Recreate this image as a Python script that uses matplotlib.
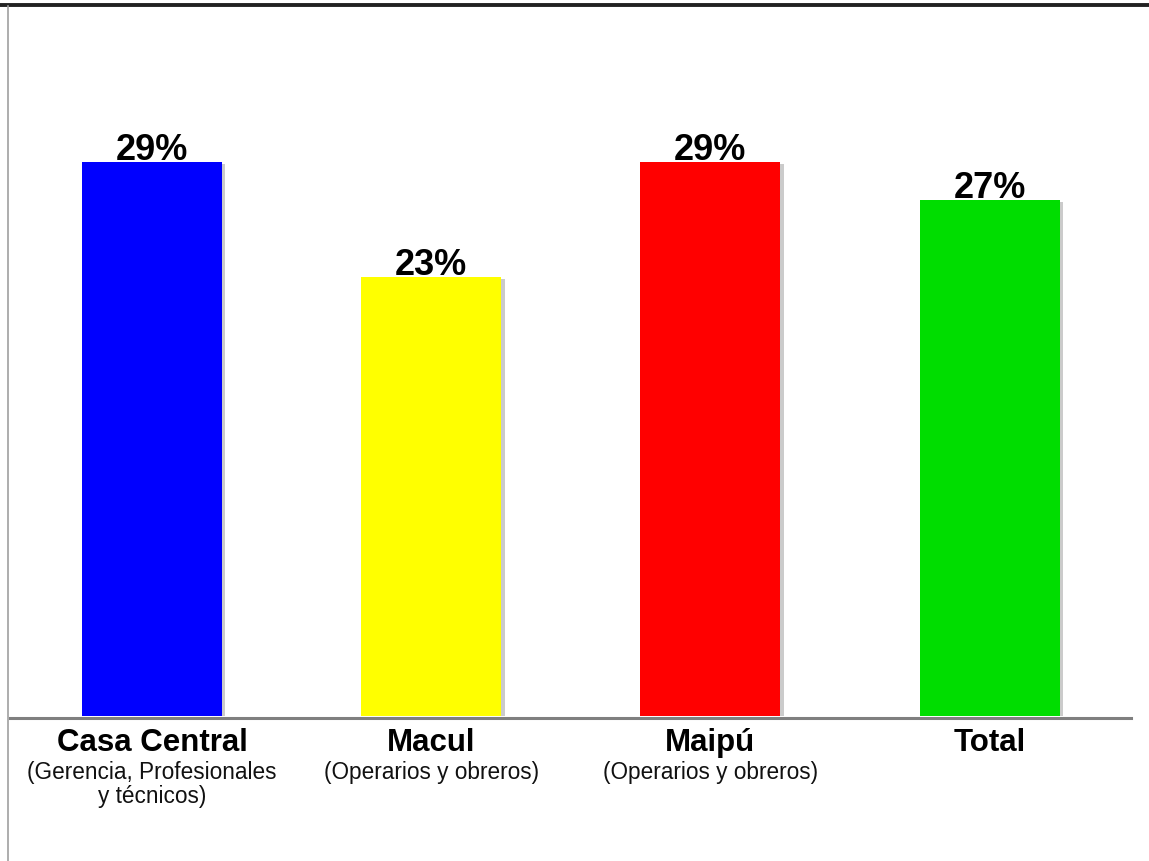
import matplotlib
matplotlib.use("Agg")
import matplotlib.pyplot as plt
from matplotlib.lines import Line2D
import matplotlib.patheffects as pe
import matplotlib.transforms as mtransforms

categories = ["Casa Central", "Macul", "Maipú", "Total"]
subtitles = ["(Gerencia, Profesionales\ny técnicos)", "(Operarios y obreros)", "(Operarios y obreros)", ""]
values = [29, 23, 29, 27]
labels = ["29%", "23%", "29%", "27%"]
colors = ["#0000FF", "#FFFF00", "#FF0000", "#00DD00"]

plt.rcParams['font.family'] = ['Liberation Sans', 'DejaVu Sans']

W, H = 1149, 861
fig = plt.figure(figsize=(W / 100, H / 100), dpi=100)

# axes in pixel layout
left_px, right_px, bottom_px, top_px = 10, 1131, 716, 6
ax = fig.add_axes([left_px / W, 1 - bottom_px / H, (right_px - left_px) / W, (bottom_px - top_px) / H])
ppu = 554 / 29.0
ax.set_ylim(0, (bottom_px - top_px) / ppu)
spacing = 279.17
ax.set_xlim((left_px - 152) / spacing, (right_px - 152) / spacing)
ax.axis('off')

x = list(range(len(categories)))
bars = ax.bar(x, values, width=140 / spacing, color=colors, zorder=2)
for b in bars:
    b.set_path_effects([pe.SimplePatchShadow(offset=(2.5, -1.5), shadow_rgbFace='#999999', alpha=0.5), pe.Normal()])

for xi, v, lab in zip(x, values, labels):
    ax.annotate(lab, xy=(xi, v), xytext=(0, 1.5), textcoords='offset points',
                ha='center', va='baseline', fontsize=26, fontweight='bold', color='black')

trans = mtransforms.blended_transform_factory(ax.transData, fig.transFigure)
for xi, cat, sub in zip(x, categories, subtitles):
    ax.text(xi, 1 - 728 / H, cat, transform=trans, ha='center', va='top',
            fontsize=22.5, fontweight='bold', color='black')
    if sub:
        ax.text(xi, 1 - 761 / H, sub, transform=trans, ha='center', va='top',
                fontsize=16.3, color='#111111', linespacing=1.08)

# baseline
fig.add_artist(Line2D([left_px / W, right_px / W], [1 - 718 / H, 1 - 718 / H],
                      color='#7f7f7f', lw=2.2, transform=fig.transFigure, zorder=3))
# top border
fig.add_artist(Line2D([0, 1], [1 - 4.5 / H, 1 - 4.5 / H], color='#222222', lw=2.8,
                      transform=fig.transFigure))
# left border
fig.add_artist(Line2D([8 / W, 8 / W], [0, 1 - 6 / H], color='#a0a0a0', lw=1.2,
                      transform=fig.transFigure))

fig.savefig("out.png", dpi=100)
